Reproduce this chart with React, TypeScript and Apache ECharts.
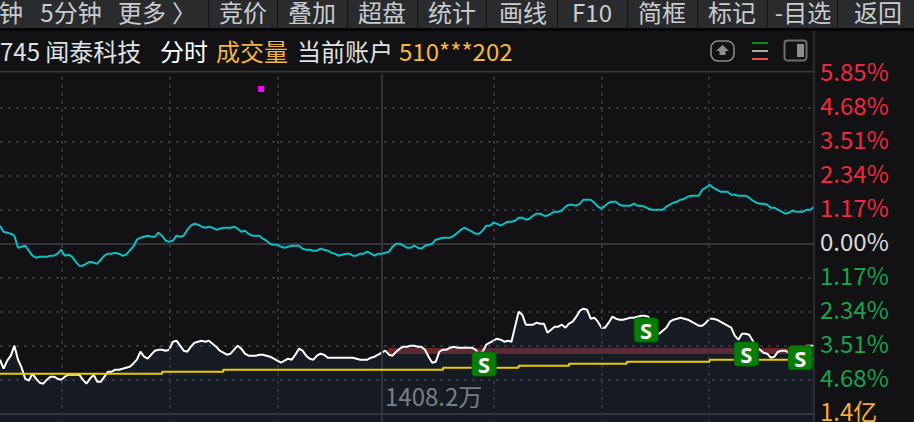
import React, { useEffect, useRef } from "react";
import * as echarts from "echarts";

// Price change from the previous close, in 0.01 yuan (34 = 1.17%), one reading per minute
const priceChange = [18,12,11,10,8,-4,-3,-2,-7,-12,-14,-13,-13,-13,-12,-12,-10,-6,-12,-11,-13,-18,-22,-22,-20,-18,-19,-20,-16,-12,-10,-10,-9,-10,-12,-11,-7,-3,4,6,7,8,7,7,11,8,3,2,3,8,7,8,14,18,20,19,17,16,17,16,14,15,16,16,16,17,15,12,13,10,8,8,8,5,3,0,
-1,-1,-3,-4,-3,-2,-2,-2,-5,-6,-6,-7,-7,-5,-6,-7,-9,-10,-12,-11,-10,-10,-12,-12,-10,-10,-8,-10,-12,-10,-10,-9,-8,-3,0,0,-2,-4,-4,-2,-4,-5,-2,-1,0,4,5,6,6,6,8,11,14,16,14,12,10,10,13,18,18,21,20,18,20,22,22,23,26,26,24,25,28,30,30,
28,28,30,32,32,33,37,39,39,38,40,44,44,44,41,37,35,38,41,42,42,39,38,38,38,40,38,38,37,35,34,34,34,34,37,39,41,42,44,45,47,48,48,48,54,56,59,56,54,52,52,52,49,49,48,48,48,46,43,41,40,40,39,36,36,34,32,30,31,33,32,32,32,34,34,37];

// Volume curve, one reading per minute
const volume = [54,45,53,58,68,54,46,35,33,40,35,31,30,34,37,37,35,34,37,39,39,39,39,34,30,35,39,32,32,37,42,42,44,44,45,46,47,50,54,62,57,55,59,63,64,64,63,64,72,73,68,63,62,67,71,72,73,72,73,70,67,63,61,59,60,64,68,65,60,58,58,58,59,59,58,57,
55,53,51,53,55,54,59,65,63,58,55,54,58,60,59,56,56,56,56,56,56,56,56,55,54,54,54,56,57,59,61,63,59,58,62,65,67,67,68,68,67,67,64,57,51,52,62,64,64,66,67,66,66,66,66,66,64,60,62,69,71,73,75,74,72,73,72,87,102,99,89,89,89,91,90,
90,81,84,87,87,89,86,90,92,97,103,105,104,95,96,92,86,86,91,97,95,94,94,95,96,96,97,98,98,97,90,82,80,83,86,92,94,95,96,95,94,92,90,88,88,91,95,95,94,92,90,88,86,78,74,80,80,79,73,66,64,61,60,56,57,62,63,63,61,60,61,64,66,68,68,68];

// Average volume: minute at which each level starts, and the level
const avgMinutes = [0,45,62,123,144,158,174,197,226];
const avgLevels = [40,42,44,46,48,50,52,54,54];

// Sell signals
const sellMinutes = [134.4,179.4,207.2,222.2];
const sellLevels = [49.7,83.7,59.7,56];

// Highlighted range on the volume scale
const bandMinutes = [107.8,226];
const bandLevels = [59.7,65.7];

const markerPoint = [[72.5,154.7]];

const tickValues = [170,136,102,68,34,0,-34,-68,-102,-136,-170];
const tickLabels = ["5.85%","4.68%","3.51%","2.34%","1.17%","0.00%","1.17%","2.34%","3.51%","4.68%","1.4亿"];
const timeLines = [17.2,47.2,77.2,137.2,167.2,196.7];
const sessionBreak = [106.1];
const solidLevels = [0,-170];

const toolbarLabels = [["钟",11],["5分钟",71],["更多",142],["〉",184],["竞价",243],["叠加",312],["超盘",382],["统计",452],["画线",523],["F10",592],["简框",662],["标记",732],["-目选",803],["返回",878]] as const;
const toolbarSeps = [208,277,347,417,486,557,627,697,767,837];
const FONT = '"Noto Sans CJK SC","Noto Sans",sans-serif';

const GRID_COLOR = "#33343c";
const SQUARE = "path://M3 0H21Q24 0 24 3V21Q24 24 21 24H3Q0 24 0 21V3Q0 0 3 0Z";

function text(x: number, y: number, t: string, fill: string, align = "left") {
  return { type: "text", x, y, z: 20, style: { text: t, fill, font: `24px ${FONT}`, textAlign: align, textVerticalAlign: "middle" } };
}

function labelColor(v: number) {
  if (v === -170) return "#f2a93b";
  if (v > 0) return "#f0283f";
  if (v === 0) return "#dcdcdc";
  return "#17a150";
}

export default function App() {
  const ref = useRef<HTMLDivElement>(null);
  useEffect(() => {
    document.body.style.margin = "0";
    const chart = echarts.init(ref.current!, undefined, { renderer: "svg" });
    const minutes = priceChange.map((_, i) => i);
    const graphic: any[] = [
      { type: "rect", shape: { x: 0, y: 0, width: 914, height: 29 }, z: 10, style: { fill: "#2a2b2d" } },
      { type: "rect", shape: { x: 0, y: 28, width: 914, height: 3 }, z: 11, style: { fill: "#050505" } },
      ...toolbarSeps.map((x) => ({ type: "rect", shape: { x, y: 0, width: 1, height: 29 }, z: 11, style: { fill: "#141416" } })),
      ...toolbarLabels.map(([t, x]) => text(x, 11, t, "#c8ccd0", "center")),
      { type: "rect", shape: { x: 0, y: 31, width: 814, height: 40 }, z: 10, style: { fill: "#121113" } },
      { type: "rect", shape: { x: 0, y: 70.8, width: 814, height: 1.6 }, z: 11, style: { fill: GRID_COLOR } },
      { type: "rect", shape: { x: 813.2, y: 31, width: 1.6, height: 391 }, z: 11, style: { fill: GRID_COLOR } },
      text(0, 50, "745 闻泰科技", "#dfe1e3"),
      text(160, 50, "分时", "#ffffff"),
      text(216, 50, "成交量", "#eeb640"),
      text(297, 50, "当前账户", "#dfe1e3"),
      text(399, 50, "510***202", "#f2b93e"),
      text(385, 395, "1408.2万", "#7b7e82"),
      { type: "rect", shape: { x: 711, y: 41, width: 23, height: 20, r: 7 }, z: 12, style: { fill: "none", stroke: "#8a8a8a", lineWidth: 1.6 } },
      { type: "polygon", shape: { points: [[722.5,45],[729,51],[725.5,51],[725.5,55],[719.5,55],[719.5,51],[716,51]] }, z: 12, style: { fill: "#8f8f8f" } },
      { type: "rect", shape: { x: 752, y: 42, width: 16, height: 2 }, z: 12, style: { fill: "#0a8a0a" } },
      { type: "rect", shape: { x: 752, y: 50, width: 16, height: 2 }, z: 12, style: { fill: "#a8a8a8" } },
      { type: "rect", shape: { x: 752, y: 58, width: 16, height: 2 }, z: 12, style: { fill: "#f04a4a" } },
      { type: "rect", shape: { x: 784.5, y: 40.5, width: 22, height: 20, r: 3 }, z: 12, style: { fill: "none", stroke: "#6e6e6e", lineWidth: 2 } },
      { type: "rect", shape: { x: 797, y: 44, width: 7, height: 13 }, z: 12, style: { fill: "#8f8f8f" } },
    ];
    chart.setOption({
      animation: false,
      backgroundColor: "#121113",
      textStyle: { fontFamily: FONT },
      grid: { left: 0, top: 73.7, width: 814, height: 374, containLabel: false, outerBoundsMode: "none" },
      xAxis: { type: "value", min: 0, max: 226, show: false },
      yAxis: [
        {
          type: "value", position: "right", min: -204, max: 170, interval: 34,
          axisLine: { show: false }, axisTick: { show: false },
          splitLine: { show: true, showMaxLine: false, lineStyle: { color: GRID_COLOR, width: 2, type: [3, 5] } },
          axisLabel: {
            margin: 6, fontSize: 24, fontFamily: FONT, showMinLabel: false,
            verticalAlign: "bottom", lineHeight: 6,
            color: (v: any) => labelColor(Number(v)),
            formatter: (v: number) => { const i = tickValues.indexOf(v); return i >= 0 ? tickLabels[i] : ""; },
          },
        },
        { type: "value", min: -34, max: 340, interval: 34, show: false, splitLine: { show: false } },
      ],
      series: [
        {
          type: "line", name: "grid", yAxisIndex: 0, z: 1, silent: true, symbol: "none", data: [],
          markLine: {
            silent: true, symbol: "none", label: { show: false },
            data: [
              ...timeLines.map((xAxis) => ({ xAxis, lineStyle: { color: GRID_COLOR, width: 2, type: [3, 5] } })),
              ...sessionBreak.map((xAxis) => ({ xAxis, lineStyle: { color: "#3a3b44", width: 1.6, type: "solid" } })),
              ...solidLevels.map((yAxis) => ({ yAxis, lineStyle: { color: GRID_COLOR, width: 2, type: "solid" } })),
            ],
          },
        },
        {
          type: "line", name: "量区", yAxisIndex: 1, z: 2, symbol: "none", lineStyle: { width: 0 },
          areaStyle: { color: "rgba(35,60,90,0.35)", origin: "start" },
          data: volume.map((v, i) => [minutes[i], v]),
        },
        {
          type: "line", name: "band", yAxisIndex: 1, z: 3, symbol: "none", data: [],
          markArea: {
            silent: true, itemStyle: { color: "#6e2428", opacity: 1 },
            data: [[{ xAxis: bandMinutes[0], yAxis: bandLevels[0] }, { xAxis: bandMinutes[1], yAxis: bandLevels[1] }]],
          },
        },
        {
          type: "line", name: "成交量", yAxisIndex: 1, z: 4, symbol: "none",
          lineStyle: { color: "#ffffff", width: 2 },
          data: volume.map((v, i) => [minutes[i], v]),
        },
        {
          type: "line", name: "均量", yAxisIndex: 1, z: 5, symbol: "none", step: "end",
          lineStyle: { color: "#e6cc00", width: 2 },
          data: avgMinutes.map((m, i) => [m, avgLevels[i]]),
        },
        {
          type: "line", name: "分时", yAxisIndex: 0, z: 6, symbol: "none",
          lineStyle: { color: "#0cbfc4", width: 2 },
          data: priceChange.map((v, i) => [minutes[i], v]),
        },
        {
          type: "scatter", name: "marker", yAxisIndex: 0, z: 6, symbol: "rect", symbolSize: 6,
          itemStyle: { color: "#ff00ff", opacity: 1 }, data: markerPoint,
        },
        {
          type: "scatter", name: "卖", yAxisIndex: 1, z: 7, symbol: SQUARE, symbolSize: 24,
          itemStyle: { color: "#087e08", borderColor: "#056005", borderWidth: 1, opacity: 1 },
          label: { show: true, position: "inside", formatter: "S", color: "#f4f4f4", fontSize: 22, fontWeight: "bold", fontFamily: "Noto Sans" },
          data: sellMinutes.map((m, i) => [m, sellLevels[i]]),
        },
      ],
      graphic,
    });
    return () => chart.dispose();
  }, []);
  return <div ref={ref} style={{ width: 914, height: 422 }} />;
}
